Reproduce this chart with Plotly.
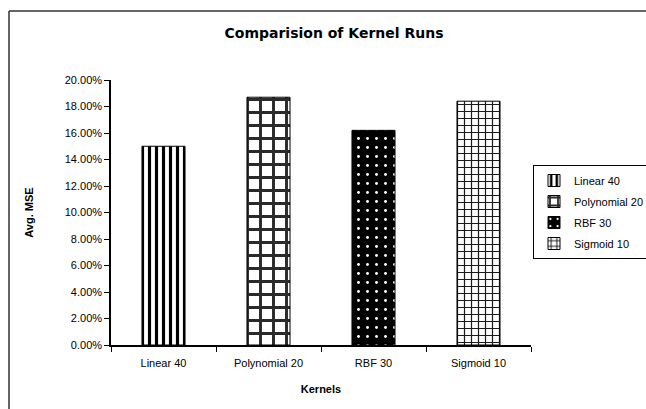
import plotly.graph_objects as go

# Average MSE per kernel configuration
kernels = ["Linear 40", "Polynomial 20", "RBF 30", "Sigmoid 10"]
avg_mse = [0.150, 0.187, 0.162, 0.184]

# Fill style for each bar: (pattern shape, foreground, background, size, solidity)
patterns = [
    ("|", "black", "white", 7, 0.45),
    ("+", "#2a2a2a", "white", 13, 0.4),
    (".", "white", "black", 9, 0.08),
    ("+", "#1a1a1a", "white", 7, 0.32),
]

fig = go.Figure()
for name, val, (shape, fg, bg, size, sol) in zip(kernels, avg_mse, patterns):
    fig.add_trace(go.Bar(
        x=[name], y=[val], name=name, width=0.41,
        legendgroup=name,
        marker=dict(
            color=bg,
            line=dict(color="black", width=1),
            pattern=dict(shape=shape, fgcolor=fg, bgcolor=bg,
                         size=size, solidity=sol, fillmode="replace"),
        ),
    ))

axis_font = dict(family="Liberation Sans, Arial, sans-serif", size=11, color="black")

# chart frame: only the top and left edges fall inside the page
plot_w, plot_h = 420, 265
frame_left = (9 - 111) / plot_w
frame_right = (646 - 111) / plot_w
frame_top = (345 - 11) / plot_h
frame_bottom = -64 / plot_h
frame = dict(color="#333333", width=1.5)

fig.update_layout(
    width=646, height=409,
    margin=dict(l=111, r=115, t=80, b=64, autoexpand=False),
    paper_bgcolor="white", plot_bgcolor="white",
    barmode="overlay",
    showlegend=True,
    title=dict(
        text="<b>Comparision of Kernel Runs</b>",
        x=0.531, xref="paper", xanchor="center",
        y=1 - 33 / 409, yref="container", yanchor="middle",
        font=dict(family="DejaVu Sans, sans-serif", size=14, color="black"),
    ),
    xaxis=dict(
        showline=True, linecolor="black", linewidth=1.5,
        ticks="outside", tickson="boundaries", ticklen=5, tickcolor="black",
        tickfont=axis_font, showgrid=False, ticklabelstandoff=7,
        title=dict(text="<b>Kernels</b>", font=axis_font, standoff=17),
    ),
    yaxis=dict(
        range=[0, 0.2], dtick=0.02, tickformat=".2%",
        showline=True, linecolor="black", linewidth=1.5,
        ticks="outside", ticklen=5, tickcolor="black",
        tickfont=axis_font, showgrid=False, zeroline=False,
        title=dict(text="<b>Avg. MSE</b>", font=axis_font, standoff=29),
    ),
    legend=dict(
        x=(533 - 111) / plot_w, y=(345 - 165) / plot_h,
        xanchor="left", yanchor="top",
        bgcolor="white", bordercolor="black", borderwidth=1,
        font=axis_font, itemwidth=30, tracegroupgap=2,
    ),
    shapes=[
        dict(type="line", xref="paper", yref="paper",
             x0=frame_left, x1=frame_right, y0=frame_top, y1=frame_top,
             line=frame, layer="below"),
        dict(type="line", xref="paper", yref="paper",
             x0=frame_left, x1=frame_left, y0=frame_bottom, y1=frame_top,
             line=frame, layer="below"),
    ],
)

fig.write_html("out.html", config={"displayModeBar": False})
